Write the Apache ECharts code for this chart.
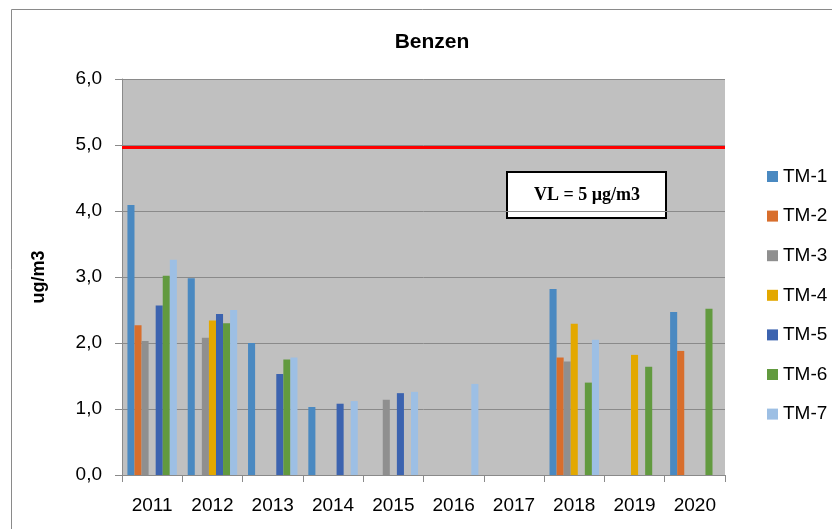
<!DOCTYPE html>
<html>
<head>
<meta charset="utf-8">
<script src="https://cdn.jsdelivr.net/npm/echarts@6/dist/echarts.min.js"></script>
<style>
html,body{margin:0;padding:0;background:#fff;}
#c{width:832px;height:529px;}
</style>
</head>
<body>
<div id="c"></div>
<script>
var categories = ['2011','2012','2013','2014','2015','2016','2017','2018','2019','2020'];
var seriesNames = ['TM-1','TM-2','TM-3','TM-4','TM-5','TM-6','TM-7'];
var tm1 = [4.09, 2.98, 2.00, 1.03, null, null, null, 2.82, null, 2.47];
var tm2 = [2.27, null, null, null, null, null, null, 1.78, null, 1.88];
var tm3 = [2.03, 2.08, null, null, 1.14, null, null, 1.72, null, null];
var tm4 = [null, 2.34, null, null, null, null, null, 2.29, 1.82, null];
var tm5 = [2.57, 2.44, 1.53, 1.08, 1.24, null, null, null, null, null];
var tm6 = [3.02, 2.30, 1.75, null, null, null, null, 1.40, 1.64, 2.52];
var tm7 = [3.26, 2.50, 1.78, 1.12, 1.26, 1.38, null, 2.05, null, null];
var limitValue = 4.96;
var limitLabel = 'VL = 5 µg/m3';
var yTicks = ['0,0','1,0','2,0','3,0','4,0','5,0','6,0'];

var colors = ['#4a89c1','#d86e2c','#8f8f8f','#e3a800','#3c63af','#629a3f','#9dbfe4'];
var allData = [tm1, tm2, tm3, tm4, tm5, tm6, tm7];

var series = allData.map(function(d, i){
  var s = {
    name: seriesNames[i],
    type: 'bar',
    data: d,
    barGap: '0%',
    barCategoryGap: '18%',
    itemStyle: {color: colors[i]}
  };
  if (i === 0) {
    s.markLine = {
      silent: true,
      symbol: ['none','none'],
      label: {show: false},
      lineStyle: {color: '#ff0000', width: 3, type: 'solid'},
      data: [{yAxis: limitValue}],
      z: 10
    };
  }
  return s;
});

var chart = echarts.init(document.getElementById('c'), null, {renderer: 'canvas'});
chart.setOption({
  animation: false,
  color: colors,
  title: {
    text: 'Benzen',
    left: 427, top: 27, textAlign: 'center',
    textStyle: {fontFamily: 'Liberation Sans', fontWeight: 'bold', fontSize: 21, color: '#000'}
  },
  grid: {left: 122, right: 107, top: 79, bottom: 54, show: true, backgroundColor: '#c0c0c0', borderWidth: 0},
  legend: {
    orient: 'vertical',
    left: 762, top: 162,
    itemWidth: 11, itemHeight: 11, itemGap: 20.6,
    icon: 'rect',
    textStyle: {fontFamily: 'Liberation Sans', fontSize: 19, color: '#000'},
    data: seriesNames
  },
  xAxis: {
    type: 'category',
    data: categories,
    axisLine: {show: true, lineStyle: {color: '#8a8a8a', width: 1}},
    axisTick: {show: true, length: 7, lineStyle: {color: '#8a8a8a'}},
    axisLabel: {fontFamily: 'Liberation Sans', fontSize: 19, color: '#000', margin: 21}
  },
  yAxis: {
    type: 'value',
    min: 0, max: 6, interval: 1,
    name: 'ug/m3',
    nameLocation: 'middle',
    nameGap: 74,
    nameTextStyle: {fontFamily: 'Liberation Sans', fontWeight: 'bold', fontSize: 18, color: '#000'},
    axisLine: {show: true, lineStyle: {color: '#8a8a8a', width: 1}},
    axisTick: {show: true, length: 7, lineStyle: {color: '#8a8a8a'}},
    splitLine: {show: true, lineStyle: {color: '#8a8a8a', width: 1}},
    axisLabel: {
      fontFamily: 'Liberation Sans', fontSize: 19, color: '#000', margin: 20,
      formatter: function(v){ return yTicks[Math.round(v)]; }
    }
  },
  graphic: [
    {type: 'rect', left: 9, top: 7, shape: {width: 840, height: 540}, style: {fill: 'none', stroke: '#8a8a8a', lineWidth: 1}, z: -10, silent: true},
    {type: 'group', left: 506, top: 171, z: 100, children: [
      {type: 'rect', shape: {width: 159, height: 46}, style: {fill: '#fff', stroke: '#000', lineWidth: 2}},
      {type: 'text', x: 80, y: 23, style: {text: limitLabel, fontFamily: 'Liberation Serif', fontWeight: 'bold', fontSize: 18, fill: '#000', align: 'center', verticalAlign: 'middle'}}
    ]}
  ],
  series: series
});
</script>
</body>
</html>
